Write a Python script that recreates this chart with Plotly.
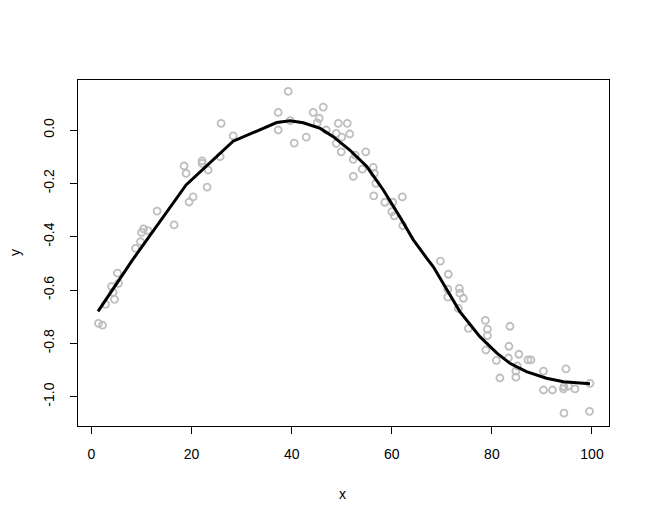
import plotly.graph_objects as go

x_obs = [1.4, 2.2, 2.8, 4.0, 4.3, 4.6, 5.2, 5.4, 8.8, 9.8, 10.0, 10.4, 11.3, 13.1, 16.5,
         18.5, 18.9, 19.5, 20.3, 22.1, 22.1, 23.1, 23.3, 25.7, 25.9, 28.3, 37.3, 37.3,
         39.3, 39.7, 40.5, 42.9, 44.3, 45.1, 45.5, 46.3, 46.9, 48.9, 48.9, 49.3, 49.9,
         50.0, 51.1, 51.6, 52.3, 52.3, 52.7, 54.1, 54.8, 56.3, 56.4, 56.5, 56.8, 58.6,
         60.0, 60.2, 60.5, 62.1, 62.2, 69.7, 71.2, 71.2, 71.3, 73.3, 73.5, 73.6, 74.3,
         75.3, 78.7, 78.8, 79.1, 79.1, 80.9, 81.6, 83.3, 83.4, 83.6, 84.8, 84.8, 85.1,
         85.4, 87.2, 87.8, 90.3, 90.3, 92.1, 94.3, 94.4, 94.4, 94.8, 95.3, 96.6, 99.5, 99.6]
y_obs = [-0.725, -0.732, -0.654, -0.587, -0.609, -0.635, -0.537, -0.575, -0.444, -0.419,
         -0.384, -0.371, -0.377, -0.304, -0.356, -0.135, -0.163, -0.270, -0.251, -0.116,
         -0.125, -0.214, -0.150, -0.100, 0.025, -0.022, 0.066, 0.000, 0.145, 0.035,
         -0.049, -0.027, 0.066, 0.027, 0.044, 0.086, 0.000, -0.013, -0.050, 0.025,
         -0.082, -0.027, 0.025, -0.015, -0.110, -0.174, -0.094, -0.147, -0.082, -0.140,
         -0.247, -0.163, -0.200, -0.271, -0.306, -0.271, -0.322, -0.251, -0.359, -0.492,
         -0.597, -0.627, -0.541, -0.669, -0.594, -0.612, -0.631, -0.744, -0.714, -0.825,
         -0.747, -0.771, -0.864, -0.930, -0.855, -0.811, -0.736, -0.904, -0.927, -0.885,
         -0.841, -0.862, -0.862, -0.904, -0.975, -0.975, -0.971, -0.962, -1.062, -0.896,
         -0.960, -0.971, -1.055, -0.950]

# Smoothed curve
fit_x = [1.3, 8.2, 18.9, 24.6, 28.3, 37.0, 39.7, 42.3, 45.7, 48.3, 51.6, 55.0, 58.3,
         61.6, 64.3, 67.0, 68.3, 73.6, 77.6, 81.0, 83.6, 86.9, 90.9, 94.3, 99.6]
fit_y = [-0.680, -0.487, -0.206, -0.106, -0.042, 0.028, 0.035, 0.027, 0.006, -0.025,
         -0.075, -0.137, -0.225, -0.325, -0.412, -0.481, -0.513, -0.681, -0.775, -0.837,
         -0.875, -0.906, -0.931, -0.944, -0.952]

x_ticks = [0, 20, 40, 60, 80, 100]
y_ticks = [-1.0, -0.8, -0.6, -0.4, -0.2, 0.0]
y_tick_text = ["-1.0", "-0.8", "-0.6", "-0.4", "-0.2", "0.0"]

font = dict(family="Liberation Sans, Arial, sans-serif", size=14, color="black")

fig = go.Figure()
fig.add_trace(go.Scatter(
    x=x_obs, y=y_obs, mode="markers",
    marker=dict(symbol="circle-open", size=7, color="#BEBEBE",
                line=dict(color="#BEBEBE", width=1.8)),
    showlegend=False, hoverinfo="skip"))
fig.add_trace(go.Scatter(
    x=fit_x, y=fit_y, mode="lines",
    line=dict(color="black", width=3),
    showlegend=False, hoverinfo="skip"))

fig.update_layout(
    width=642, height=516,
    margin=dict(l=70, r=41, t=72, b=98),
    paper_bgcolor="white", plot_bgcolor="white",
    font=font,
    xaxis=dict(range=[-2.7, 103.4], tickvals=x_ticks, ticks="outside", ticklen=7,
               tickwidth=1, tickcolor="black", showline=True, linecolor="black",
               linewidth=1, mirror=True, showgrid=False, zeroline=False,
               ticklabelstandoff=8, tickfont=font),
    yaxis=dict(range=[-1.11, 0.1875], tickvals=y_ticks, ticktext=y_tick_text,
               ticks="outside", ticklen=7, tickwidth=1, tickcolor="black",
               showline=True, linecolor="black", linewidth=1, mirror=True,
               showgrid=False, zeroline=False, tickangle=-90,
               ticklabelstandoff=10, tickfont=font),
    annotations=[
        dict(text="x", xref="paper", yref="paper", x=0.499, y=-0.1965,
             xanchor="center", yanchor="middle", showarrow=False, font=font),
        dict(text="y", xref="paper", yref="paper", x=-0.1186, y=0.5,
             xanchor="center", yanchor="middle", showarrow=False, font=font,
             textangle=-90),
    ],
)

fig.write_html("out.html")
